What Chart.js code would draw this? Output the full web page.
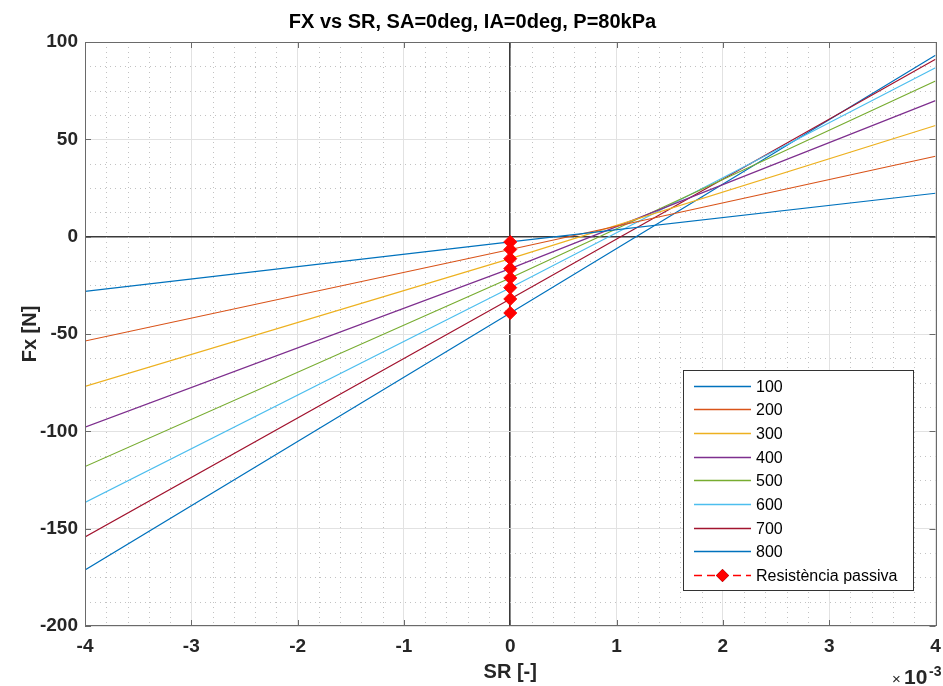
<!DOCTYPE html>
<html>
<head>
<meta charset="utf-8">
<script src="https://cdn.jsdelivr.net/npm/chart.js@4/dist/chart.umd.min.js"></script>
<style>
  html, body { margin: 0; padding: 0; background: #fff; }
</style>
</head>
<body>
<canvas id="fx" width="943" height="686"></canvas>
<script>
// slip ratio samples and longitudinal force per vertical load
const slipRatio = [-4e-3, 0, 4e-3];
const loadLabels = ['100', '200', '300', '400', '500', '600', '700', '800'];
const fx100 = [-28.1, -2.7, 22.3];
const fx200 = [-53.6, -6.6, 41.3];
const fx300 = [-76.9, -11.3, 57.1];
const fx400 = [-97.9, -16.4, 69.9];
const fx500 = [-118.1, -21.2, 80.0];
const fx600 = [-136.5, -26.2, 86.8];
const fx700 = [-154.3, -32.0, 91.1];
const fx800 = [-171.2, -39.2, 93.2];
const lineColors = ['#0072BD', '#D95319', '#EDB120', '#7E2F8E', '#77AC30', '#4DBEEE', '#A2142F', '#0072BD'];
const passiveLabel = 'Resistència passiva';

const fxSeries = [fx100, fx200, fx300, fx400, fx500, fx600, fx700, fx800];
// rolling resistance = force at zero slip for each load
const passiveFx = fxSeries.map(s => s[slipRatio.indexOf(0)]);

const FONT = 'Liberation Sans, Arial, Helvetica, sans-serif';
const AXIS_COLOR = '#262626';

const datasets = fxSeries.map((s, i) => ({
  label: loadLabels[i],
  data: slipRatio.map((x, j) => ({ x, y: s[j] })),
  borderColor: lineColors[i],
  backgroundColor: lineColors[i],
  borderWidth: 1.2,
  pointRadius: 0,
  order: 1
}));
datasets.push({
  label: passiveLabel,
  data: passiveFx.map(y => ({ x: 0, y })),
  borderColor: '#ff0000',
  backgroundColor: '#ff0000',
  borderWidth: 1,
  borderDash: [8, 5],
  pointStyle: 'rectRot',
  pointRadius: 6.5,
  pointBorderWidth: 1,
  order: 0
});

const isZero = v => Math.abs(v) < 1e-9;

// minor dotted grid, inward ticks, axes box, exponent and legend
const axesExtras = {
  id: 'axesExtras',
  beforeDatasetsDraw(chart) {
    const { ctx, chartArea: a, scales: { x, y } } = chart;
    ctx.save();
    ctx.strokeStyle = '#c2c2c2';
    ctx.lineWidth = 1;
    ctx.setLineDash([1, 4]);
    for (let i = -20; i <= 20; i++) {
      if (i % 5 === 0) continue;
      const px = Math.round(x.getPixelForValue(i * 0.2e-3)) + 0.5;
      ctx.beginPath(); ctx.moveTo(px, a.top); ctx.lineTo(px, a.bottom); ctx.stroke();
    }
    for (let i = -16; i <= 8; i++) {
      if (i % 4 === 0) continue;
      const py = Math.round(y.getPixelForValue(i * 12.5)) + 0.5;
      ctx.beginPath(); ctx.moveTo(a.left, py); ctx.lineTo(a.right, py); ctx.stroke();
    }
    ctx.restore();
  },
  afterDatasetsDraw(chart) {
    const { ctx, chartArea: a, scales: { x, y } } = chart;
    ctx.save();
    ctx.strokeStyle = '#6a6a6a';
    ctx.lineWidth = 1;
    ctx.setLineDash([]);
    const tl = 6;
    x.ticks.forEach(t => {
      const px = Math.round(x.getPixelForValue(t.value)) + 0.5;
      ctx.beginPath();
      ctx.moveTo(px, a.bottom); ctx.lineTo(px, a.bottom - tl);
      ctx.moveTo(px, a.top); ctx.lineTo(px, a.top + tl);
      ctx.stroke();
    });
    y.ticks.forEach(t => {
      const py = Math.round(y.getPixelForValue(t.value)) + 0.5;
      ctx.beginPath();
      ctx.moveTo(a.left, py); ctx.lineTo(a.left + tl, py);
      ctx.moveTo(a.right, py); ctx.lineTo(a.right - tl, py);
      ctx.stroke();
    });
    ctx.strokeRect(Math.round(a.left) + 0.5, Math.round(a.top) + 0.5,
      Math.round(a.right - a.left), Math.round(a.bottom - a.top) - 1);

    // x10^-3 exponent label
    ctx.fillStyle = AXIS_COLOR;
    ctx.textBaseline = 'alphabetic';
    ctx.textAlign = 'left';
    ctx.font = '15px ' + FONT;
    ctx.fillText('\u00d7', 892, 684);
    ctx.font = 'bold 21px ' + FONT;
    ctx.fillText('10', 904, 684);
    ctx.font = 'bold 14px ' + FONT;
    ctx.fillText('-3', 929, 676);

    // legend
    const lx = 683, ly = 370, lw = 230, lh = 220;
    ctx.fillStyle = '#fff';
    ctx.fillRect(lx, ly, lw, lh);
    ctx.strokeStyle = '#333';
    ctx.strokeRect(lx + 0.5, ly + 0.5, lw, lh);
    ctx.font = '16px ' + FONT;
    ctx.textBaseline = 'middle';
    chart.data.datasets.forEach((ds, i) => {
      const cy = Math.round(385.7 + i * 23.65) + 0.5;
      ctx.strokeStyle = ds.borderColor;
      ctx.lineWidth = ds.borderWidth + 0.3;
      ctx.setLineDash(ds.borderDash || []);
      ctx.beginPath(); ctx.moveTo(694, cy); ctx.lineTo(751, cy); ctx.stroke();
      ctx.setLineDash([]);
      if (ds.pointRadius > 0) {
        Chart.helpers.drawPoint(ctx, { pointStyle: ds.pointStyle, radius: ds.pointRadius, borderWidth: 0 }, 722.5, cy);
        ctx.fillStyle = ds.backgroundColor;
        ctx.fill();
      }
      ctx.fillStyle = '#000';
      ctx.fillText(ds.label, 756, cy + 1);
    });
    ctx.restore();
  }
};

const tickFont = { family: FONT, size: 19, weight: 'bold' };
const titleFont = { family: FONT, size: 20, weight: 'bold' };
const gridStyle = {
  drawTicks: false,
  color: c => isZero(c.tick.value) ? '#3a3a3a' : '#e2e2e2',
  lineWidth: c => isZero(c.tick.value) ? 1.6 : 1
};

// let the end tick labels hang past the plot edge instead of shrinking it
const trimXScale = s => {
  s.height = 60;
  s.paddingLeft = 0;
  s.paddingRight = 0;
  if (s._margins) { s._margins.left = 0; s._margins.right = 0; }
};

new Chart(document.getElementById('fx'), {
  type: 'line',
  data: { datasets },
  options: {
    responsive: false,
    animation: false,
    devicePixelRatio: 1,
    layout: { padding: { left: 0, right: -2, top: 0, bottom: 0 } },
    scales: {
      x: {
        type: 'linear',
        min: -4e-3,
        max: 4e-3,
        border: { display: false },
        grid: gridStyle,
        ticks: {
          stepSize: 1e-3,
          autoSkip: false,
          maxRotation: 0,
          padding: 9,
          color: AXIS_COLOR,
          font: tickFont,
          callback: v => String(Math.round(v * 1000))
        },
        title: { display: true, text: 'SR [-]', color: AXIS_COLOR, font: titleFont, padding: { top: 0, bottom: 2 } },
        afterFit: trimXScale
      },
      y: {
        min: -200,
        max: 100,
        border: { display: false },
        grid: gridStyle,
        ticks: { stepSize: 50, padding: 7, color: AXIS_COLOR, font: tickFont },
        title: { display: true, text: 'Fx [N]', color: AXIS_COLOR, font: titleFont, padding: { top: 18, bottom: 0 } },
        afterFit: s => { s.width = 85; s.paddingTop = 0; s.paddingBottom = 0; }
      }
    },
    plugins: {
      legend: { display: false },
      tooltip: { enabled: false },
      title: {
        display: true,
        text: 'FX vs SR, SA=0deg, IA=0deg, P=80kPa',
        color: '#000',
        font: titleFont,
        padding: { top: 10, bottom: 8 }
      }
    }
  },
  plugins: [axesExtras]
});
</script>
</body>
</html>
